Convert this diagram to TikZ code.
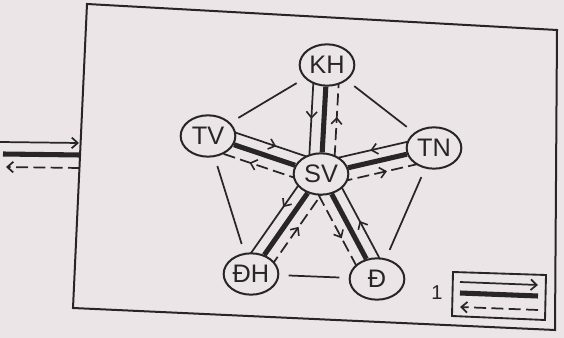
\documentclass[tikz,border=0pt]{standalone}
\usepackage{fontspec}
\setmainfont{Liberation Sans}
\usetikzlibrary{shapes.geometric,arrows.meta,decorations.markings,calc}
\definecolor{paper}{RGB}{235,229,231}
\definecolor{ink}{RGB}{40,37,39}
\pgfdeclarelayer{back}
\pgfdeclarelayer{lines}
\pgfsetlayers{back,lines,main}
\begin{document}
\begin{tikzpicture}[x=0.75pt,y=-0.75pt,
  station/.style={ellipse,draw=ink,line width=1.5pt,fill=paper,minimum width=41pt,minimum height=31pt,inner sep=0pt,font=\fontsize{19}{19}\selectfont,text=ink},
  thinln/.style={draw=ink,line width=1.3pt},
  thickln/.style={draw=ink,line width=3.8pt},
  dashln/.style={draw=ink,line width=1.3pt,dash pattern=on 9pt off 4pt},
  midarrow/.style={postaction={decorate},decoration={markings,mark=at position #1 with {\arrow[ink,line width=1.2pt,solid]{Straight Barb[length=4.5pt,width=8pt]}}}},
  endtip/.style={-{Straight Barb[length=4.5pt,width=8pt]}},
  edgeln/.style={draw=ink,line width=1.3pt,shorten >=7pt,shorten <=7pt},
  frameln/.style={draw=ink,line width=1.5pt,line join=miter}
]
\useasboundingbox (0,0) rectangle (564,338);
\begin{pgfonlayer}{back}
  \fill[paper] (0,0) rectangle (564,338);
\end{pgfonlayer}

% frame
\draw[frameln] (87,4) coordinate (f1) -- (557,30) coordinate (f2) -- (555,330) coordinate (f3) -- (73,308) coordinate (f4) -- cycle;

% nodes
\node[station] (KH) at (327,65) {KH};
\node[station] (TV) at (208,136) {TV};
\node[station] (TN) at (434,148) {TN};
\node[station] (SV) at (321,174) {SV};
\node[station] (DH) at (251,274) {ĐH};
\node[station] (D) at (377,279) {Đ};

\begin{pgfonlayer}{lines}
% outer links
\path[edgeln] (KH) -- (TV);
\path[edgeln] (KH) -- (TN);
\path[edgeln] (TV) -- (DH);
\path[edgeln] (TN) -- (D);
\path[edgeln] (DH) -- (D);

% spoke KH
\path[thickln] (SV) -- (KH);
\path[thinln,midarrow=0.5] ($(KH)!9.5pt!-90:(SV)$) -- ($(SV)!9.5pt!90:(KH)$);
\path[dashln,midarrow=0.53] ($(SV)!9.5pt!-90:(KH)$) -- ($(KH)!9.5pt!90:(SV)$);

% spoke TV
\path[thickln] (SV) -- (TV);
\path[thinln,midarrow=0.57] ($(TV)!9pt!90:(SV)$) -- ($(SV)!9pt!-90:(TV)$);
\path[dashln,midarrow=0.6] ($(SV)!9pt!90:(TV)$) -- ($(TV)!9pt!-90:(SV)$);

% spoke TN
\path[thickln] (SV) -- (TN);
\path[thinln,midarrow=0.54] ($(TN)!9pt!-90:(SV)$) -- ($(SV)!9pt!90:(TN)$);
\path[dashln,midarrow=0.56] ($(SV)!9pt!-90:(TN)$) -- ($(TN)!9pt!90:(SV)$);

% spoke DH
\path[thickln] (SV) -- (DH);
\path[thinln,midarrow=0.4] ($(SV)!9pt!-90:(DH)$) -- ($(DH)!9pt!90:(SV)$);
\path[dashln,midarrow=0.54] ($(DH)!9pt!-90:(SV)$) -- ($(SV)!9pt!90:(DH)$);

% spoke D
\path[thickln] (SV) -- (D);
\path[thinln,midarrow=0.5] ($(D)!9pt!-90:(SV)$) -- ($(SV)!9pt!90:(D)$);
\path[dashln,midarrow=0.56] ($(SV)!9pt!-90:(D)$) -- ($(D)!9pt!90:(SV)$);
\end{pgfonlayer}

% incoming lines at the left
\coordinate (la1) at (0,142);
\coordinate (lb1) at (79,143);
\coordinate (la2) at (3,154);
\coordinate (lb2) at (80,155);
\coordinate (la3) at (6,167);
\coordinate (lb3) at (80,168);
\path[thinln,endtip] (la1) -- (lb1);
\path[thickln] (la2) -- (lb2);
\path[dashln,endtip] (lb3) -- (la3);

% legend
\draw[ink,line width=1.4pt] (453,272) coordinate (g1) -- (546,275) coordinate (g2) -- (545,320) coordinate (g3) -- (452,316) coordinate (g4) -- cycle;
\coordinate (ga1) at (460,282);
\coordinate (gb1) at (538,285);
\coordinate (ga2) at (460,293);
\coordinate (gb2) at (538,296);
\coordinate (ga3) at (460,307);
\coordinate (gb3) at (538,310);
\path[thinln,endtip] (ga1) -- (gb1);
\path[thickln] (ga2) -- (gb2);
\path[dashln,endtip] (gb3) -- (ga3);
\node[font=\fontsize{15}{15}\selectfont,text=ink] (one) at (437,293) {1};
\end{tikzpicture}
\end{document}
